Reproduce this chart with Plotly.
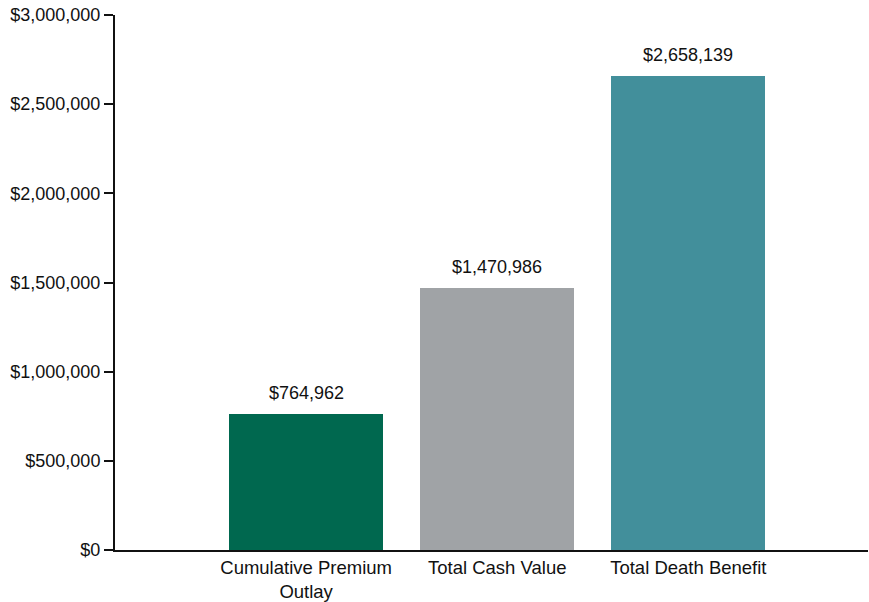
import plotly.graph_objects as go

categories = ["Cumulative Premium<br>Outlay", "Total Cash Value", "Total Death Benefit"]
values = [764962, 1470986, 2658139]
colors = ["#00684F", "#A0A3A6", "#428F9B"]
tick_vals = [0, 500000, 1000000, 1500000, 2000000, 2500000, 3000000]
tick_text = ["$0", "$500,000", "$1,000,000", "$1,500,000", "$2,000,000", "$2,500,000", "$3,000,000"]

fig = go.Figure(go.Bar(
    x=categories, y=values,
    marker=dict(color=colors, line=dict(width=0)),
    width=0.806,
    hoverinfo="x+y",
))
for c, v in zip(categories, values):
    fig.add_annotation(
        x=c, y=v, text="${:,.0f}".format(v), showarrow=False,
        yanchor="bottom", yshift=9, font=dict(size=18, color="#111"),
    )
fig.update_layout(
    width=869, height=602,
    margin=dict(l=115, r=1, t=15, b=52),
    plot_bgcolor="white", paper_bgcolor="white",
    font=dict(family="Liberation Sans, Arial", size=18, color="#111"),
    showlegend=False,
    bargap=0,
)
fig.update_xaxes(
    type="category", range=[-1.0, 2.94], automargin=False,
    showline=True, linecolor="#111", linewidth=2,
    ticks="", showgrid=False, tickfont=dict(size=18.5),
)
fig.update_yaxes(
    range=[0, 3000000], tickvals=tick_vals, ticktext=tick_text, automargin=False,
    showline=True, linecolor="#111", linewidth=2,
    ticks="outside", ticklen=9, tickwidth=2, tickcolor="#111",
    showgrid=False, zeroline=False, tickfont=dict(size=18),
)
fig.write_html("out.html", config={"displayModeBar": False},
               post_script="document.body.style.margin='0';")
